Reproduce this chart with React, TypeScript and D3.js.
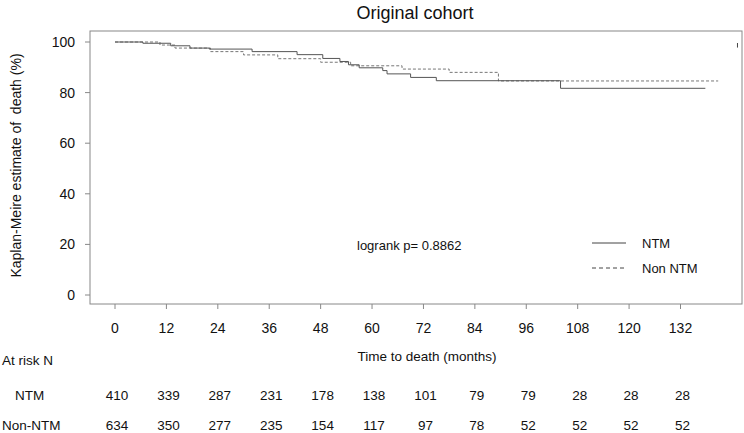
import * as React from 'react';
import * as d3 from 'd3';

// Kaplan-Meier steps: [month, percent]
const ntmSteps: [number, number][] = [
  [0, 100], [6.5, 99.5], [13, 98.5], [17.5, 97.6], [22, 97.2], [32, 96.2],
  [42.5, 95], [48.5, 93.5], [52.5, 92.3], [54.5, 91], [57, 89.8], [62.5, 88.7],
  [63.5, 87.4], [69, 86], [75, 84.7], [104, 81.7], [137.8, 81.7],
];
const nonNtmSteps: [number, number][] = [
  [0, 100], [10.5, 98.8], [14, 97.6], [22.3, 96.2], [30, 94.9], [38, 93.4],
  [48, 92], [55, 90.6], [67, 89.3], [78, 88], [89.5, 84.6], [140.8, 84.6],
];
const xTicks = [0, 12, 24, 36, 48, 60, 72, 84, 96, 108, 120, 132];
const yTicks = [0, 20, 40, 60, 80, 100];
const atRiskNtm = [410, 339, 287, 231, 178, 138, 101, 79, 79, 28, 28, 28];
const atRiskNonNtm = [634, 350, 277, 235, 154, 117, 97, 78, 52, 52, 52, 52];
// stray mark near the top right corner
const strayMark = { t: 145.3, lo: 97.8, hi: 99.6 };

const W = 744;
const H = 433;
const font = "'Liberation Sans', Arial, sans-serif";

export default function App() {
  React.useEffect(() => {
    document.body.style.margin = '0';
  }, []);

  const x = d3.scaleLinear().domain([0, 132]).range([115, 680.5]);
  const y = d3.scaleLinear().domain([0, 100]).range([295, 42]);
  const box = { left: 90, right: 742, top: 31, bottom: 304 };

  const line = d3.line<[number, number]>()
    .x(d => x(d[0]))
    .y(d => y(d[1]))
    .curve(d3.curveStepAfter);

  return (
    <svg width={W} height={H} style={{ display: 'block', fontFamily: font }}>
      <text x={415} y={19} fontSize={18} textAnchor="middle" fill="#111">Original cohort</text>

      <rect x={box.left} y={box.top} width={box.right - box.left} height={box.bottom - box.top}
        fill="none" stroke="#888" strokeWidth={1} />

      {yTicks.map(t => (
        <g key={t}>
          <line x1={box.left - 5} x2={box.left} y1={y(t)} y2={y(t)} stroke="#888" />
          <text x={75} y={y(t)} dy="0.35em" fontSize={14} textAnchor="end" fill="#111">{t}</text>
        </g>
      ))}
      <text transform={`translate(21, ${(y(0) + y(100)) / 2 - 3}) rotate(-90)`} fontSize={14}
        textAnchor="middle" fill="#111" style={{ whiteSpace: 'pre' }}>Kaplan-Meire estimate of  death (%)</text>

      {xTicks.map(t => (
        <g key={t}>
          <line x1={x(t)} x2={x(t)} y1={box.bottom} y2={box.bottom + 5} stroke="#888" />
          <text x={x(t)} y={333} fontSize={14} textAnchor="middle" fill="#111">{t}</text>
        </g>
      ))}
      <text x={427} y={361} fontSize={13.5} textAnchor="middle" fill="#111">Time to death (months)</text>

      <path d={line(nonNtmSteps) || ''} fill="none" stroke="#777" strokeWidth={1} strokeDasharray="3,2" />
      <path d={line(ntmSteps) || ''} fill="none" stroke="#555" strokeWidth={1} />
      <line x1={x(strayMark.t)} x2={x(strayMark.t)} y1={y(strayMark.lo)} y2={y(strayMark.hi)} stroke="#444" />

      <text x={357} y={245} dy="0.35em" fontSize={13} fill="#111">logrank p= 0.8862</text>

      <line x1={592} x2={626} y1={243} y2={243} stroke="#444" />
      <text x={642} y={243} dy="0.35em" fontSize={13} fill="#111">NTM</text>
      <line x1={592} x2={626} y1={268} y2={268} stroke="#444" strokeDasharray="4,3" />
      <text x={642} y={268} dy="0.35em" fontSize={13} fill="#111">Non NTM</text>

      <text x={2} y={365} fontSize={13.5} fill="#111">At risk N</text>
      <text x={15} y={395} dy="0.35em" fontSize={13.5} fill="#111">NTM</text>
      <text x={2} y={425} dy="0.35em" fontSize={13.5} fill="#111">Non-NTM</text>
      {atRiskNtm.map((n, i) => (
        <text key={'a' + i} x={x(xTicks[i]) + 2} y={395} dy="0.35em" fontSize={13.5}
          textAnchor="middle" fill="#111">{n}</text>
      ))}
      {atRiskNonNtm.map((n, i) => (
        <text key={'b' + i} x={x(xTicks[i]) + 2} y={425} dy="0.35em" fontSize={13.5}
          textAnchor="middle" fill="#111">{n}</text>
      ))}
    </svg>
  );
}
